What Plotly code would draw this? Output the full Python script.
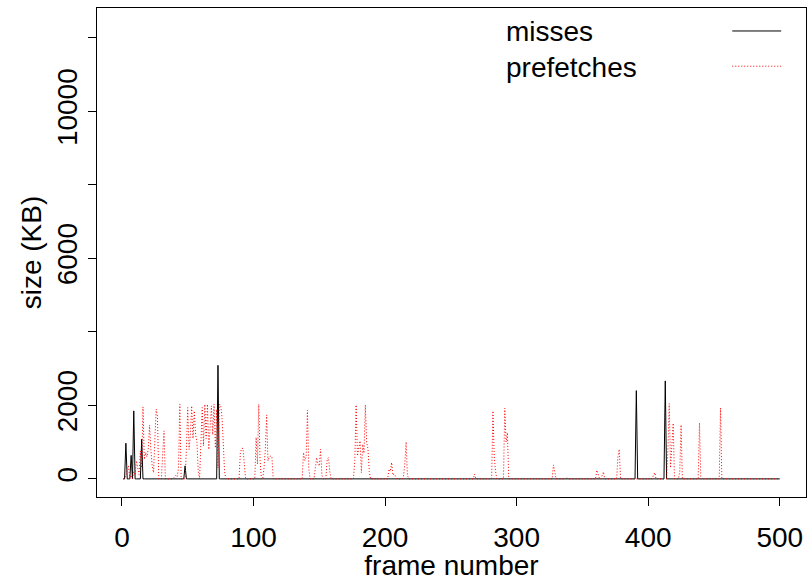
import plotly.graph_objects as go

# Frame numbers plotted on the x axis
frames = list(range(1, 501))

# Cache misses per frame (KB); frames not listed are 0
miss_frames = [3, 7, 9, 15, 48, 73, 391, 413]
miss_sizes = [971, 640, 1850, 1080, 354, 3090, 2402, 2666]

# Prefetched data per frame (KB); frames not listed are 0
prefetch_frames = [3, 4, 5, 7, 9, 10, 11, 12, 13, 14, 15, 16, 17, 18, 19, 20,
                   21, 22, 23, 24, 25, 26, 27, 31, 32, 40, 41, 42, 43, 44,
                   49, 50, 51, 52, 53, 54, 55, 56, 57, 58, 60, 61, 62, 63, 64,
                   65, 66, 67, 68, 69, 70, 71, 72, 73, 74, 75, 76, 77, 78,
                   90, 91, 92, 93, 102, 103, 104, 105, 108, 109, 110, 111,
                   112, 113, 114, 138, 139, 140, 141, 142, 147, 148, 149, 150,
                   151, 152, 156, 157, 158, 177, 178, 179, 180, 181, 182, 183,
                   184, 185, 186, 187, 188, 203, 204, 205, 206, 207, 208, 214,
                   215, 216, 217, 268, 282, 283, 284, 291, 292, 293, 328, 329,
                   338, 361, 362, 365, 366, 377, 378, 404, 405, 415, 416, 417,
                   418, 419, 424, 425, 439, 455]
prefetch_sizes = [100, 200, 354, 100, 200, 100, 490, 300, 120, 760, 300, 1960,
                  530, 720, 600, 816, 1460, 800, 350, 170, 1200, 1895, 1700,
                  700, 1305, 60, 100, 60, 300, 2030,
                  800, 1940, 800, 1200, 1985, 1100, 1850, 1200, 1000, 200, 800,
                  1940, 900, 2030, 1100, 2030, 800, 1300, 1985, 1200, 2030,
                  840, 1890, 300, 2020, 2020, 1700, 1000, 200,
                  700, 830, 830, 500, 1130, 400, 2030, 500, 300, 800, 1740,
                  490, 600, 620, 600, 717, 500, 600, 1870, 300, 300, 580, 400,
                  350, 807, 100, 536, 580, 200, 500, 2013, 626, 800, 1034, 170,
                  943, 700, 2013, 1000, 816, 200, 263, 200, 445, 100, 136, 50,
                  70, 400, 1006, 100, 130, 1850, 600, 200, 1920, 1000, 1260,
                  380, 150, 50, 236, 100, 100, 190, 600, 807, 100, 172, 800,
                  2050, 300, 1000, 1514, 200, 1469, 1523, 1931]

# Y tick positions and their labels (some ticks are left unlabeled)
y_ticks = [0, 2000, 4000, 6000, 8000, 10000, 12000]
y_tick_text = ["0", "2000", "", "6000", "", "10000", ""]
x_ticks = [0, 100, 200, 300, 400, 500]
x_tick_text = ["0", "100", "200", "300", "400", "500"]


def series(idx, vals):
    out = {f: 0 for f in frames}
    for f, v in zip(idx, vals):
        out[f] = v
    return [out[f] for f in frames]


misses = series(miss_frames, miss_sizes)
prefetches = series(prefetch_frames, prefetch_sizes)

FONT = "Liberation Sans, Arial, Helvetica, sans-serif"
FS = 28

fig = go.Figure()
fig.add_trace(go.Scatter(x=frames, y=misses, mode="lines", name="misses",
                         line=dict(color="black", width=1)))
fig.add_trace(go.Scatter(x=frames, y=prefetches, mode="lines", name="prefetches",
                         line=dict(color="red", width=1, dash="1px,2px")))

# Legend drawn as text with the line samples to its right
fig.add_annotation(xref="paper", yref="paper", x=0.574, y=0.951, text="misses",
                   showarrow=False, xanchor="left", yanchor="middle",
                   font=dict(family=FONT, size=FS, color="black"))
fig.add_annotation(xref="paper", yref="paper", x=0.574, y=0.879, text="prefetches",
                   showarrow=False, xanchor="left", yanchor="middle",
                   font=dict(family=FONT, size=FS, color="black"))
fig.add_shape(type="line", xref="paper", yref="paper", x0=0.896, x1=0.965,
              y0=0.953, y1=0.953, line=dict(color="black", width=1))
fig.add_shape(type="line", xref="paper", yref="paper", x0=0.896, x1=0.965,
              y0=0.881, y1=0.881, line=dict(color="red", width=1, dash="1px,2px"))

fig.update_layout(
    width=809, height=581,
    margin=dict(l=97, r=3, t=8, b=84),
    paper_bgcolor="white", plot_bgcolor="white",
    showlegend=False,
    font=dict(family=FONT, size=FS, color="black"),
    xaxis=dict(range=[-18.96, 519.96], tickvals=x_ticks, ticktext=x_tick_text,
               ticks="outside", ticklen=8, tickcolor="black", tickwidth=1,
               ticklabelstandoff=7,
               showline=True, mirror=True, linecolor="black", linewidth=1,
               showgrid=False, zeroline=False, automargin=False,
               tickfont=dict(family=FONT, size=FS),
               title=dict(text="frame number", standoff=5,
                          font=dict(family=FONT, size=FS))),
    yaxis=dict(range=[-493, 12813], tickvals=y_ticks, ticktext=y_tick_text,
               tickangle=-90,
               ticks="outside", ticklen=8, tickcolor="black", tickwidth=1,
               showline=True, mirror=True, linecolor="black", linewidth=1,
               showgrid=False, zeroline=False, automargin=False,
               tickfont=dict(family=FONT, size=FS),
               title=dict(text="size (KB)", standoff=1,
                          font=dict(family=FONT, size=FS))),
)

fig.write_html("out.html")
